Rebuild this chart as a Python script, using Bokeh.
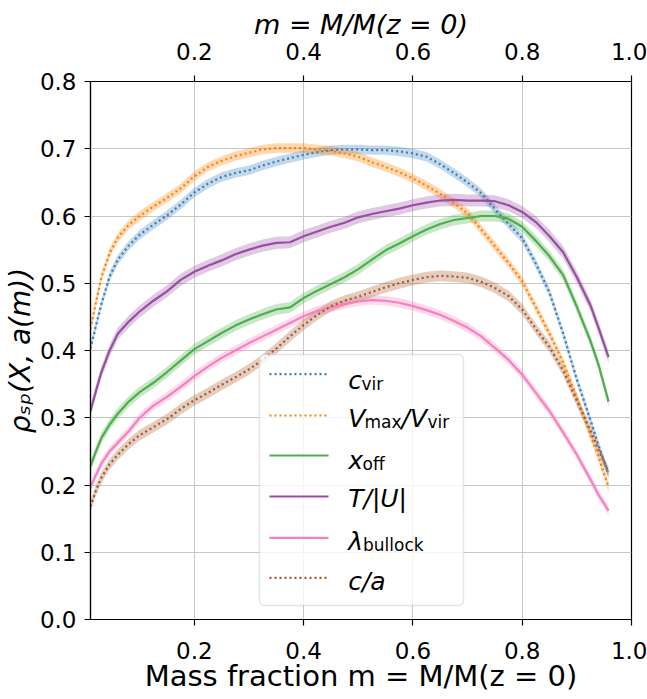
import numpy as np
from bokeh.plotting import figure
from bokeh.models import (Range1d, LinearAxis, FixedTicker, BoxAnnotation, Arrow, Label,
                          ColumnDataSource)
from bokeh.embed import file_html
from bokeh.resources import INLINE

# ---------------- data ----------------
m = [0.01, 0.02, 0.03, 0.045, 0.06, 0.08, 0.10, 0.125, 0.15, 0.175, 0.20, 0.225, 0.25, 0.275,
     0.30, 0.325, 0.35, 0.375, 0.40, 0.425, 0.45, 0.475, 0.50, 0.525, 0.55, 0.575, 0.60, 0.625,
     0.65, 0.675, 0.70, 0.725, 0.75, 0.775, 0.80, 0.825, 0.85, 0.875, 0.90, 0.925, 0.94, 0.958]

c_vir = [0.403, 0.437, 0.469, 0.510, 0.535, 0.556, 0.572, 0.587, 0.601, 0.617, 0.635, 0.648, 0.658, 0.664,
         0.668, 0.675, 0.681, 0.686, 0.691, 0.695, 0.698, 0.699, 0.699, 0.698, 0.698, 0.696, 0.693, 0.688,
         0.677, 0.664, 0.650, 0.634, 0.610, 0.588, 0.567, 0.529, 0.486, 0.425, 0.357, 0.296, 0.258, 0.216]

vmax_vvir = [0.432, 0.472, 0.509, 0.545, 0.568, 0.587, 0.600, 0.614, 0.627, 0.641, 0.659, 0.673, 0.682, 0.689,
             0.694, 0.699, 0.701, 0.701, 0.701, 0.699, 0.697, 0.693, 0.688, 0.680, 0.673, 0.665, 0.656, 0.645,
             0.633, 0.619, 0.604, 0.580, 0.555, 0.530, 0.503, 0.464, 0.425, 0.382, 0.330, 0.274, 0.241, 0.197]

x_off = [0.228, 0.250, 0.270, 0.290, 0.306, 0.324, 0.338, 0.352, 0.368, 0.385, 0.402, 0.414, 0.426, 0.437,
         0.446, 0.454, 0.461, 0.464, 0.478, 0.489, 0.499, 0.509, 0.521, 0.535, 0.549, 0.559, 0.570, 0.580,
         0.588, 0.594, 0.597, 0.600, 0.600, 0.596, 0.584, 0.563, 0.540, 0.512, 0.465, 0.414, 0.378, 0.324]

t_u = [0.310, 0.340, 0.368, 0.400, 0.425, 0.443, 0.458, 0.474, 0.488, 0.505, 0.517, 0.526, 0.534, 0.543,
       0.550, 0.556, 0.560, 0.561, 0.570, 0.577, 0.584, 0.590, 0.598, 0.603, 0.607, 0.611, 0.616, 0.620,
       0.623, 0.624, 0.623, 0.623, 0.622, 0.616, 0.606, 0.591, 0.570, 0.546, 0.509, 0.467, 0.433, 0.390]

lambda_bullock = [0.197, 0.215, 0.232, 0.250, 0.263, 0.280, 0.300, 0.318, 0.331, 0.346, 0.362, 0.376, 0.389, 0.400,
                  0.411, 0.421, 0.431, 0.441, 0.451, 0.459, 0.464, 0.469, 0.473, 0.475, 0.474, 0.471, 0.466, 0.460,
                  0.453, 0.444, 0.434, 0.421, 0.404, 0.386, 0.364, 0.337, 0.310, 0.278, 0.245, 0.208, 0.185, 0.162]

c_a = [0.168, 0.192, 0.211, 0.231, 0.245, 0.261, 0.274, 0.286, 0.298, 0.313, 0.326, 0.337, 0.349, 0.360,
       0.372, 0.386, 0.403, 0.421, 0.438, 0.453, 0.466, 0.474, 0.480, 0.487, 0.494, 0.500, 0.505, 0.509,
       0.511, 0.510, 0.508, 0.502, 0.493, 0.481, 0.461, 0.432, 0.405, 0.370, 0.325, 0.281, 0.252, 0.219]

series_names = ["c_vir", "Vmax/Vvir", "x_off", "T/|U|", "lambda_bullock", "c/a"]
series_values = [c_vir, vmax_vvir, x_off, t_u, lambda_bullock, c_a]
series_halfwidth = [0.007, 0.007, 0.008, 0.009, 0.007, 0.008]
colors = ["#377eb8", "#ff7f00", "#4daf4a", "#984ea3", "#f781bf", "#a65628"]
dashes = ["2 3", "2 3", "solid", "solid", "solid", "2 3"]

x_ticks = [0.2, 0.4, 0.6, 0.8, 1.0]
x_tick_labels = ["0.2", "0.4", "0.6", "0.8", "1.0"]
y_ticks = [0.0, 0.1, 0.2, 0.3, 0.4, 0.5, 0.6, 0.7, 0.8]
y_tick_labels = ["0.0", "0.1", "0.2", "0.3", "0.4", "0.5", "0.6", "0.7", "0.8"]

x_label = "Mass fraction m = M/M(z = 0)"
x_top_label = "m = M/M(z = 0)"
y_label = "ρₛₚ(X, a(m))"

FONT = "DejaVu Sans"

# ---------------- figure ----------------
p = figure(width=647, height=699, x_range=Range1d(0.01, 1.0), y_range=Range1d(0.0, 0.8),
           output_backend="svg", toolbar_location=None,
           min_border_left=89, min_border_right=16, min_border_top=81, min_border_bottom=80)
p.background_fill_color = "white"
p.border_fill_color = "white"
p.outline_line_color = "black"
p.outline_line_width = 1.2
p.outline_line_alpha = 1.0

# bands first
for vals, hw, col in zip(series_values, series_halfwidth, colors):
    v = np.array(vals)
    src = ColumnDataSource(dict(x=m, lo=v - hw, hi=v + hw))
    p.varea(x="x", y1="lo", y2="hi", source=src, fill_color=col, fill_alpha=0.3)

for vals, col, dash in zip(series_values, colors, dashes):
    src = ColumnDataSource(dict(x=m, y=vals))
    p.line(x="x", y="y", source=src, line_color=col, line_width=2.2, line_dash=dash)

# axes
def style_axis(ax, ticks, labels, label, label_size, label_style):
    ax.ticker = FixedTicker(ticks=ticks)
    ax.major_label_overrides = {t: l for t, l in zip(ticks, labels)}
    ax.major_tick_in = 0
    ax.major_tick_out = 6
    ax.minor_tick_line_color = None
    ax.axis_line_color = "black"
    ax.axis_line_width = 1.2
    ax.major_tick_line_color = "black"
    ax.major_tick_line_width = 1.2
    ax.major_label_text_font = FONT
    ax.major_label_text_font_size = "23px"
    ax.major_label_text_color = "black"
    ax.axis_label = label
    ax.axis_label_text_font = FONT
    ax.axis_label_text_font_size = label_size
    ax.axis_label_text_font_style = label_style
    ax.axis_label_text_color = "black"

xb = p.xaxis[0]
style_axis(xb, x_ticks, x_tick_labels, x_label, "29px", "normal")
xb.major_label_standoff = 16
xb.axis_label_standoff = -3

yl = p.yaxis[0]
style_axis(yl, y_ticks, y_tick_labels, y_label, "28px", "italic")
yl.major_label_standoff = 8
yl.axis_label_standoff = 0

xt = LinearAxis()
style_axis(xt, x_ticks, x_tick_labels, x_top_label, "27px", "italic")
xt.major_label_standoff = 16
xt.axis_label_standoff = 0
p.add_layout(xt, "above")

p.xgrid.ticker = FixedTicker(ticks=x_ticks)
p.ygrid.ticker = FixedTicker(ticks=y_ticks)
p.grid.grid_line_color = "#c8c8c8"
p.grid.grid_line_width = 1

# ---------------- legend (screen units, frame relative) ----------------
box = BoxAnnotation(left=169, right=373, bottom=14, top=265,
                    left_units="screen", right_units="screen", top_units="screen", bottom_units="screen",
                    fill_color="white", fill_alpha=0.8, line_color="#aaaaaa", line_width=1.3,
                    border_radius=5)
p.add_layout(box)

row_line_y = [245.3, 204.0, 164.0, 123.0, 81.7, 41.7]
for yy, col, dash in zip(row_line_y, colors, dashes):
    p.add_layout(Arrow(end=None, x_start=179, y_start=yy, x_end=238, y_end=yy,
                       start_units="screen", end_units="screen",
                       line_color=col, line_width=2.2, line_dash=dash))

row_base = [239.0, 201.0, 159.5, 121.0, 78.5, 38.5]
legend_pieces = [
    # (row, x, text, italic, size, sub)
    (0, 257.7, "c", True, 25, False), (0, 271.0, "vir", False, 17, True),
    (1, 257.7, "V", True, 25, False), (1, 274.0, "max", False, 17, True),
    (1, 311.0, "/V", True, 25, False), (1, 337.0, "vir", False, 17, True),
    (2, 257.7, "x", True, 25, False), (2, 272.0, "off", False, 17, True),
    (3, 257.7, "T/|U|", True, 25, False),
    (4, 257.7, "λ", True, 25, False), (4, 272.5, "bullock", False, 17, True),
    (5, 257.7, "c/a", True, 25, False),
]
for row, xx, txt, it, size, sub in legend_pieces:
    yy = row_base[row] - (3.5 if sub else 0)
    p.add_layout(Label(x=xx, y=yy, x_units="screen", y_units="screen", text=txt,
                       text_font=FONT, text_font_size=f"{size}px",
                       text_font_style="italic" if it else "normal",
                       text_color="black", text_baseline="alphabetic", text_align="left"))

open("out.html", "w").write(file_html(p, INLINE))
